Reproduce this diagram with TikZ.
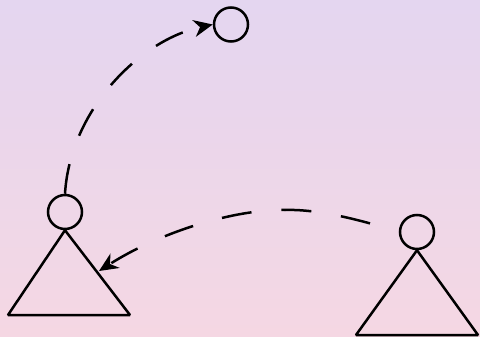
\documentclass[tikz,border=0pt]{standalone}
\usetikzlibrary{arrows.meta}
\definecolor{bgtop}{RGB}{228,214,240}
\definecolor{bgbot}{RGB}{245,215,227}
\begin{document}
\begin{tikzpicture}[x=1pt,y=-1pt,
  head/.style={circle,draw=black,line width=2.5pt,minimum size=34pt,inner sep=0pt},
  body/.style={draw=black,line width=2.5pt,line join=bevel},
  link/.style={draw=black,line width=2.5pt,dash pattern=on 30pt off 30pt,
    -{Stealth[length=19pt,width=17pt,inset=6pt]}}]
\shade[top color=bgtop,bottom color=bgbot] (0,0) rectangle (480,337);
\useasboundingbox (0,0) rectangle (480,337);
\node[head] (c1) at (65,212) {};
\node[head] (c2) at (417,232) {};
\node[head] (c3) at (231,24.5) {};
\coordinate (t1l) at (8,315);
\coordinate (t1r) at (130,315);
\coordinate (t2l) at (356,335);
\coordinate (t2r) at (478,335);
\coordinate (hit) at (99,271);
\coordinate (mid) at (285,210);
\path[body] (c1.south) -- (t1l) -- (t1r) -- cycle;
\path[body] (c2.south) -- (t2l) -- (t2r) -- cycle;
\path[link] (c1.north) .. controls (70,110) and (140,40) .. (c3.west);
\path[link,dash phase=30pt] (c2.west) .. controls (355,218) and (315,209) .. (mid)
  .. controls (235,209) and (160,232) .. (hit);
\end{tikzpicture}
\end{document}
